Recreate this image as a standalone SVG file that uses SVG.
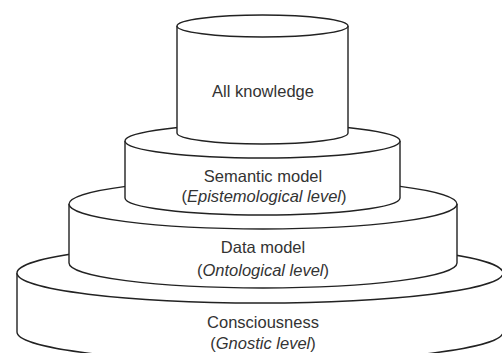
<svg xmlns="http://www.w3.org/2000/svg" width="502" height="353" viewBox="0 0 502 353">
<style>
.body{fill:#fff;stroke:#222;stroke-width:1.4}
.top{fill:#fff;stroke:#222;stroke-width:1.4}
text{font-family:"Liberation Sans",Arial,sans-serif;font-size:16.5px;fill:#333;text-anchor:middle}
.i{font-style:italic}
</style>
<rect width="502" height="353" fill="#fff"/>
<g id="consciousness">
<path class="body" d="M17,273 V332 A243,30 0 0 0 503,332 V273"/>
<ellipse class="top" cx="260" cy="273" rx="243" ry="30"/>
<text x="263" y="328">Consciousness</text>
<text x="263" y="349">(<tspan class="i">Gnostic level</tspan>)</text>
</g>
<g id="data-model">
<path class="body" d="M69,204 V263 A194,25 0 0 0 457,263 V204"/>
<ellipse class="top" cx="263" cy="204" rx="194" ry="25"/>
<text x="263" y="253">Data model</text>
<text x="263" y="276">(<tspan class="i">Ontological level</tspan>)</text>
</g>
<g id="semantic-model">
<path class="body" d="M125,141 V198 A137.5,17 0 0 0 400,198 V141"/>
<ellipse class="top" cx="262.5" cy="141" rx="137.5" ry="17"/>
<text x="263" y="182">Semantic model</text>
<text x="264" y="202">(<tspan class="i">Epistemological level</tspan>)</text>
</g>
<g id="all-knowledge">
<path class="body" d="M177,26 V133 A85.5,11 0 0 0 348,133 V26"/>
<ellipse class="top" cx="262.5" cy="26" rx="85.5" ry="11"/>
<text x="263" y="97">All knowledge</text>
</g>
<g id="connectors"></g>
</svg>
